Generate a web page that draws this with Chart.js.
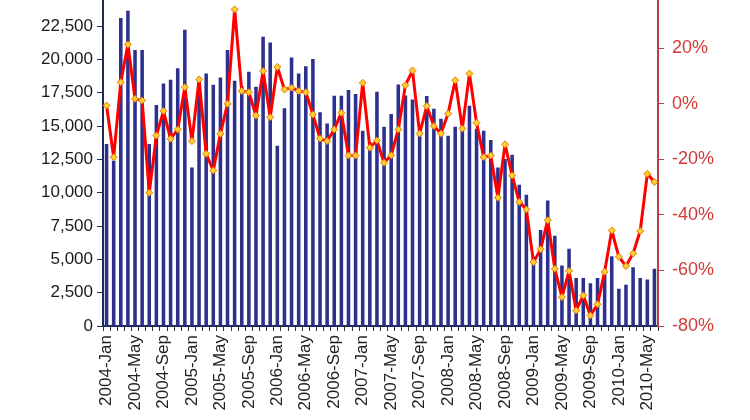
<!DOCTYPE html>
<html>
<head>
<meta charset="utf-8">
<script src="https://cdn.jsdelivr.net/npm/chart.js@4.4.1/dist/chart.umd.min.js"></script>
<style>
  html, body { margin: 0; padding: 0; background: #fff; overflow: hidden; }
  #wrap { position: absolute; left: 0; top: -26px; width: 750px; height: 446px; }
</style>
</head>
<body>
<div id="wrap"><canvas id="chart"></canvas></div>
<script>
// months 2004-Jan .. 2010-Jun
var years = ['2004', '2005', '2006', '2007', '2008', '2009', '2010'];
var monthNames = ['Jan', 'Feb', 'Mar', 'Apr', 'May', 'Jun', 'Jul', 'Aug', 'Sep', 'Oct', 'Nov', 'Dec'];
var months = [];
years.forEach(y => monthNames.forEach(m => months.push(y + '-' + m)));
months = months.slice(0, 78);

// monthly volume (left axis)
var volume = [
  13660, 12400, 23100, 23650, 20700, 20700, 13660, 16580, 18200, 18480, 19330, 22230,
  11900, 18480, 18950, 18100, 18650, 20700, 18400, 18000, 19080, 17950, 21700, 21280,
  13530, 16330, 20150, 18950, 19480, 20030, 16030, 15200, 17280, 17280, 17700, 17400,
  14650, 13800, 17580, 14950, 15900, 18120, 17300, 17000, 14400, 17250, 16300, 15550,
  14280, 14950, 14780, 16530, 14800, 14650, 13950, 11900, 12530, 12850, 10600, 9850,
  5200, 7210, 9410, 6780, 4540, 5790, 3610, 3610, 3210, 3610, 4000, 5230,
  2790, 3090, 4410, 3610, 3490, 4290
];

// year-on-year change in % (right axis)
var yoy = [
  -0.6, -19.2, 7.8, 21.4, 1.8, 1.2, -32, -11.4, -2.6, -12.6, -9.2, 6.0,
  -13.4, 8.8, -18, -24, -10.8, 0, 34, 4.6, 4.2, -4.2, 11.8, -4.8,
  13.3, 5.2, 5.8, 4.6, 4.2, -3.8, -12.5, -13.4, -9.2, -3.2, -18.6, -18.6,
  7.6, -15.8, -13.2, -21.2, -18.5, -9.2, 6.7, 12, -10.7, -0.8, -8, -10.7,
  -3.5, 8.5, -8.9, 10.9, -6.8, -19.2, -18.6, -33.8, -14.6, -25.8, -35.3, -38.0,
  -57.0, -52.4, -41.9, -59.4, -69.6, -60.2, -74.4, -69.0, -76.2, -72.2, -60.5, -45.6,
  -55.1, -58.4, -53.9, -45.8, -25.2, -28.1
];

var leftTicks = [0, 25000, 2500];
var rightTicks = [-80, 40, 20];

var font = { family: '"Liberation Sans", Arial, sans-serif', size: 17 };

var ctx = document.getElementById('chart');
var chart = new Chart(ctx, {
  data: {
    labels: months,
    datasets: [{
      type: 'line',
      label: 'YoY',
      data: yoy,
      yAxisID: 'y2',
      order: 0,
      borderColor: '#ff0000',
      borderWidth: 3,
      borderJoinStyle: 'round',
      tension: 0,
      pointStyle: 'rectRot',
      pointRadius: 3.5,
      pointBackgroundColor: '#ffcc33',
      pointBorderColor: '#e07800',
      pointBorderWidth: 1
    }, {
      type: 'bar',
      label: 'Volume',
      data: volume,
      yAxisID: 'y',
      order: 1,
      backgroundColor: '#2d318e',
      categoryPercentage: 1,
      barPercentage: 0.5
    }]
  },
  options: {
    responsive: true,
    maintainAspectRatio: false,
    animation: false,
    layout: { padding: { top: 12, left: 0, right: 0, bottom: 0 } },
    plugins: {
      legend: { display: false },
      tooltip: { enabled: false }
    },
    scales: {
      x: {
        grid: { drawOnChartArea: false, tickLength: 5, color: '#333' },
        border: { color: '#1c2a5c', width: 2 },
        ticks: {
          autoSkip: false,
          minRotation: 90,
          maxRotation: 90,
          padding: 4,
          color: '#222',
          font: font,
          callback: function (v, i) { return i % 4 === 0 ? this.getLabelForValue(v) : ''; }
        },
        afterFit: function (s) { s.height = 94; }
      },
      y: {
        position: 'left',
        min: leftTicks[0],
        max: leftTicks[1],
        grid: { drawOnChartArea: false, tickLength: 6, color: '#1c2a5c' },
        border: { color: '#1c2a5c', width: 2 },
        ticks: {
          stepSize: leftTicks[2],
          padding: 4,
          color: '#1a1a1a',
          font: font,
          callback: v => v.toLocaleString('en-US')
        },
        afterFit: function (s) { s.width = 103; }
      },
      y2: {
        position: 'right',
        min: rightTicks[0],
        max: rightTicks[1],
        grid: { drawOnChartArea: false, tickLength: 6, color: '#b8433f' },
        border: { color: '#b8433f', width: 2 },
        ticks: {
          stepSize: rightTicks[2],
          padding: 8,
          color: '#d33a36',
          font: { family: font.family, size: 18 },
          callback: v => v + '%'
        },
        afterFit: function (s) { s.width = 92; }
      }
    }
  }
});
</script>
</body>
</html>
